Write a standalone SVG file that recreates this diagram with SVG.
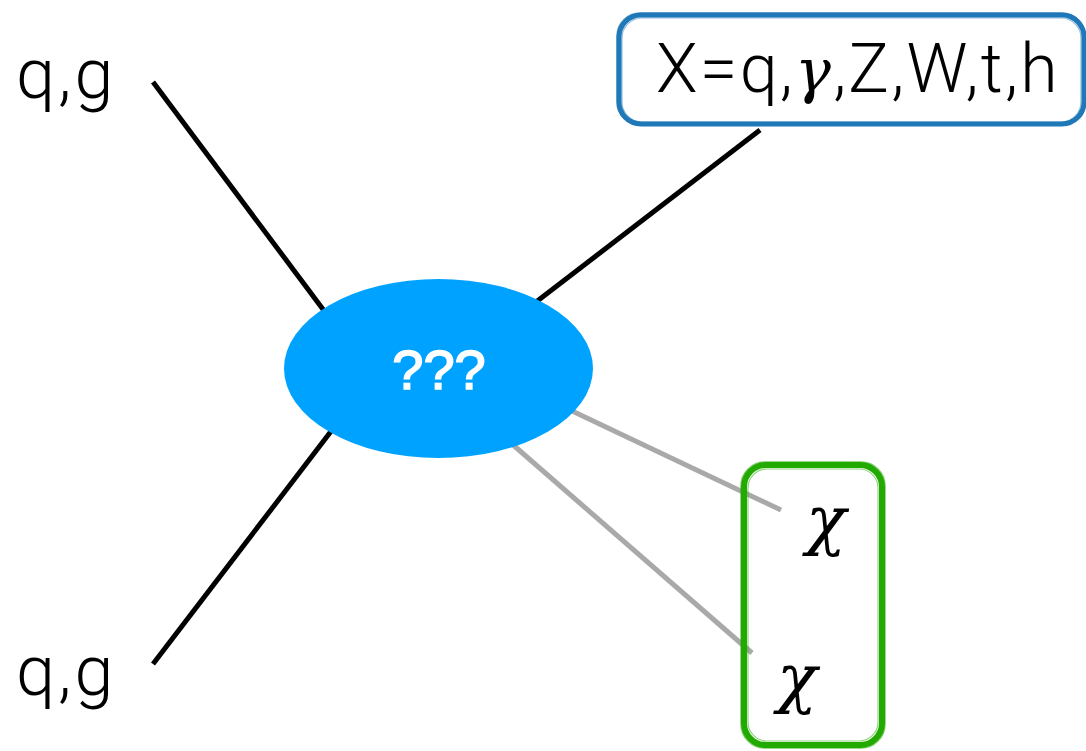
<svg xmlns="http://www.w3.org/2000/svg" width="1086" height="751" viewBox="0 0 1086 751">
<style>
.lbl{font-family:Roboto,"Liberation Sans",sans-serif;font-weight:300;fill:#000}
.greek{font-family:"DejaVu Serif","Liberation Serif",serif;font-style:italic;fill:#000}
.ln{stroke:#000;stroke-width:5;stroke-linecap:butt;fill:none}
.gl{stroke:#a9a9a9;stroke-width:5;fill:none}
.bb{fill:none;stroke:#1f78b8}
.gb{fill:none;stroke:#22aa00}
</style>
<rect width="1086" height="751" fill="#fff"/>
<g id="connectors">
<line class="ln" x1="153" y1="82" x2="325" y2="312"/>
<line class="ln" x1="332" y1="430" x2="153" y2="664"/>
<line class="ln" x1="536" y1="302" x2="760" y2="130"/>
<line class="gl" x1="570" y1="410" x2="781" y2="510"/>
<line class="gl" x1="512" y1="444" x2="752" y2="653"/>
</g>
<g id="center">
<ellipse cx="438.5" cy="368.5" rx="154.5" ry="89.5" fill="#00a2ff"/>
<text x="439" y="389" text-anchor="middle" font-family="'Liberation Sans',Arial,sans-serif" font-size="56" fill="#fff" stroke="#fff" stroke-width="1.6">???</text>
</g>
<g id="in-top"><text class="lbl" x="16" y="98" font-size="70" letter-spacing="3">q,g</text></g>
<g id="in-bottom"><text class="lbl" x="16" y="695" font-size="70" letter-spacing="3">q,g</text></g>
<g id="out-x">
<rect class="bb" x="619" y="15" width="465" height="109" rx="22" stroke-width="5"/>
<rect class="bb" x="617" y="13" width="468" height="112" rx="23" stroke-width="1.5" opacity="0.6"/>
<rect class="bb" x="622" y="18" width="459" height="104" rx="20" stroke-width="1.2" opacity="0.5"/>
<path class="bb" d="M760 15 L1060 15" stroke-width="3"/>
<text class="lbl" x="656" y="92" font-size="68" letter-spacing="2.2">X=q,<tspan class="greek" font-size="60">γ</tspan>,Z,W,t,h</text>
</g>
<g id="out-chi">
<rect class="gb" x="744" y="465" width="138" height="280" rx="22" stroke-width="6"/>
<rect class="gb" x="741" y="462" width="144" height="286" rx="24" stroke-width="1.5" opacity="0.6"/>
<rect class="gb" x="748" y="469" width="130" height="272" rx="19" stroke-width="1.2" opacity="0.5"/>
<text class="greek" x="806" y="542" font-size="66">χ</text>
<text class="greek" x="777" y="700" font-size="66">χ</text>
</g>
</svg>
